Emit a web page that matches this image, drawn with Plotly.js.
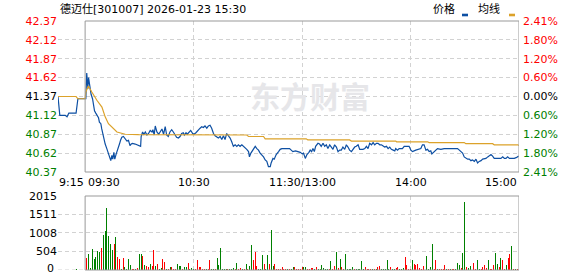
<!DOCTYPE html>
<html><head><meta charset="utf-8">
<script src="https://cdn.plot.ly/plotly-3.0.1.min.js"></script>
<style>html,body{margin:0;padding:0;background:#fff}#chart{width:578px;height:276px}</style>
</head><body><div id="chart"></div>
<script>
const titleText = '德迈仕[301007] 2026-01-23 15:30';
const legendNames = ['价格', '均线'];
const watermarkText = '东方财富';
const xTickMin = [-15, 0, 60, 120, 180, 240];
const xTickText = ['9:15', '09:30', '10:30', '11:30/13:00', '14:00', '15:00'];
const priceTicks = [42.37, 42.12, 41.87, 41.62, 41.37, 41.12, 40.87, 40.62, 40.37];
const pctText = ['2.41%', '1.80%', '1.20%', '0.60%', '0.00%', '0.60%', '1.20%', '1.80%', '2.41%'];
const preClose = 41.37;
const volTicks = [0, 504, 1008, 1511, 2015];

// minutes from 09:30 (negative = pre-market auction)
const priceMin = [
-15,-14,-13,-12,-11,-10,-9,-8,-7,-6,
-5,-4,-3,-2,-1,0,0.4,0.9,1.5,1.9,
2.4,3.0,3.3,4.1,4.6,5.2,5.9,6.7,7.4,7.9,
8.7,9.2,9.8,10.3,11.1,12.0,12.9,13.5,14.2,14.8,
15.3,15.9,16.4,17.2,17.7,18.5,19.0,19.6,20.3,21.2,
22.2,23.1,24.0,24.8,25.5,26.2,27.7,29.2,29.9,30.7,
31.0,31.8,32.5,33.3,34.2,35.1,36.0,37.0,37.5,38.2,
38.8,39.7,40.7,41.6,42.5,43.4,44.3,45.1,46.0,46.9,
47.9,48.8,49.7,50.6,51.6,52.5,53.4,54.3,54.9,55.8,
56.5,57.7,58.4,59.5,60.2,61.3,62.6,63.6,64.5,65.4,
66.3,67.3,68.2,69.1,70.0,71.0,71.9,72.8,73.7,74.7,
75.6,76.5,77.4,78.3,79.3,80.2,81.1,82.0,83.0,83.9,
84.8,85.7,86.7,87.6,88.5,89.4,90.4,90.9,91.7,92.2,
93.1,94.1,95.0,95.9,96.8,97.7,98.7,99.6,100.5,101.4,
102.4,102.9,103.9,104.6,105.7,107.0,107.9,108.8,109.8,111.2,
113.1,114.0,114.9,116.4,117.7,119.0,120.1,120.8,121.8,122.7,
123.8,124.5,125.3,126.0,126.8,127.5,128.8,129.7,130.6,131.6,
132.5,133.4,134.3,135.3,136.2,137.1,138.0,139.0,139.9,140.8,
141.7,142.6,143.6,144.5,145.4,146.3,147.3,148.2,149.1,150.0,
151.0,151.9,152.8,153.7,154.7,155.6,156.5,157.4,158.4,159.3,
160.2,161.1,162.0,163.0,163.9,164.8,165.7,166.7,167.6,168.5,
169.4,170.4,171.3,171.8,172.8,173.7,175.5,176.5,178.3,179.2,
180.2,181.1,182.9,184.8,185.7,186.6,187.5,188.5,189.4,190.3,
191.2,191.8,193.1,194.0,194.9,196.8,198.6,201.4,204.2,206.0,
207.0,207.9,208.8,209.7,210.6,211.6,212.5,213.4,214.3,215.3,
216.2,217.1,218.0,219.0,219.9,220.8,221.7,222.7,223.6,224.5,
225.4,226.3,228.2,230.0,231.0,231.9,232.8,233.7,234.7,235.6,
237.4,238.4,239.8];
const price = [
41.37,41.12,41.12,41.12,41.12,41.10,41.15,41.15,41.15,41.15,
41.15,41.34,41.34,41.34,41.34,41.34,41.34,41.68,41.47,41.62,
41.51,41.47,41.40,41.34,41.27,41.18,41.15,41.12,41.09,41.03,
41.01,40.94,40.87,40.79,40.74,40.68,40.62,40.59,40.52,40.59,
40.54,40.63,40.54,40.61,40.64,40.70,40.74,40.79,40.83,40.84,
40.81,40.78,40.79,40.72,40.74,40.75,40.74,40.73,40.72,40.71,
40.84,40.90,40.87,40.90,40.86,40.88,40.92,40.90,40.93,40.86,
40.98,40.90,40.87,40.90,40.94,40.87,40.97,40.86,40.84,40.90,
40.93,40.90,40.86,40.83,40.82,40.84,40.88,40.89,40.86,40.89,
40.87,40.90,40.92,40.88,40.87,40.89,40.93,40.95,40.97,40.96,
40.98,40.95,40.98,40.99,40.95,40.88,40.85,40.84,40.82,40.84,
40.80,40.85,40.80,40.88,40.85,40.82,40.77,40.71,40.73,40.71,
40.73,40.71,40.73,40.71,40.70,40.67,40.64,40.57,40.62,40.64,
40.67,40.71,40.68,40.66,40.62,40.60,40.57,40.53,40.51,40.44,
40.44,40.49,40.55,40.54,40.60,40.64,40.67,40.68,40.68,40.68,
40.68,40.66,40.64,40.65,40.64,40.63,40.61,40.62,40.55,40.60,
40.63,40.66,40.64,40.68,40.64,40.71,40.75,40.74,40.71,40.75,
40.71,40.73,40.68,40.73,40.70,40.67,40.73,40.70,40.64,40.66,
40.66,40.70,40.67,40.73,40.70,40.66,40.64,40.68,40.70,40.71,
40.73,40.67,40.67,40.67,40.68,40.71,40.68,40.75,40.73,40.76,
40.73,40.75,40.75,40.73,40.73,40.71,40.70,40.71,40.68,40.70,
40.67,40.66,40.65,40.68,40.66,40.68,40.68,40.71,40.71,40.71,
40.66,40.64,40.66,40.67,40.68,40.73,40.73,40.66,40.67,40.64,
40.65,40.61,40.64,40.67,40.68,40.67,40.68,40.68,40.68,40.68,
40.66,40.64,40.62,40.57,40.55,40.54,40.54,40.52,40.53,40.51,
40.54,40.49,40.51,40.52,40.54,40.54,40.55,40.57,40.58,40.60,
40.58,40.55,40.55,40.55,40.57,40.55,40.55,40.57,40.55,40.55,
40.55,40.56,40.58];

const avgMin = [-15,-5,-4,0,0.4,1.8,3.7,6.5,9.3,11.1,12.9,15.7,17.6,22.2,29.5,
89.4,90.4,98.7,99.6,122.3,123.2,146.3,147.3,171.8,172.3,189.4,190.3,209.7,210.6,225.4,226.3,239.3,240];
const avg = [41.37,41.37,41.34,41.34,41.43,41.51,41.43,41.32,41.23,41.10,41.01,40.94,40.90,40.87,40.865,
40.86,40.84,40.84,40.81,40.81,40.795,40.795,40.78,40.78,40.77,40.77,40.76,40.76,40.745,40.745,40.73,40.73,40.72];

const preVolMin = [-5];
const preVol = [27];
const preVolUp = [0];
// per-minute volume 09:31 ... 15:00
const vol = [
327,436,54,572,300,354,518,500,599,953,
1062,1689,926,708,545,708,899,354,300,27,
327,91,27,300,136,27,27,36,45,436,
436,381,127,100,82,163,109,545,109,163,
36,45,300,227,27,27,82,73,27,27,
163,109,109,27,82,73,190,27,54,27,
27,272,82,82,27,27,27,27,272,27,
36,27,327,136,599,27,27,27,27,27,
27,54,27,190,27,45,27,27,163,27,
109,681,272,490,109,27,27,409,163,27,
409,163,1090,109,163,27,27,27,73,27,
27,27,27,27,73,82,27,27,27,73,
82,73,27,27,54,54,27,82,27,27,
136,54,27,27,27,245,27,109,490,54,
300,82,27,436,27,27,27,82,27,27,
27,27,245,27,82,27,27,27,27,27,
27,82,109,27,27,27,272,27,82,27,
27,54,82,27,27,54,354,136,27,27,
272,163,136,163,54,27,109,27,381,27,
82,708,27,272,27,27,27,27,136,27,
27,27,27,27,27,190,136,54,463,1852,
82,54,109,54,190,27,272,27,27,82,
136,54,272,27,27,136,463,163,82,327,
272,27,136,327,436,654,27,27,27,409];
const volUp = [
1,0,0,0,0,0,0,0,1,0,
0,0,0,0,0,1,0,1,1,0,
1,0,0,0,0,1,1,0,1,0,
0,1,0,1,1,0,1,1,0,1,
0,0,1,1,0,1,0,1,1,1,
0,0,0,1,0,0,1,0,0,0,
1,1,1,1,1,1,0,1,1,0,
0,1,0,0,0,0,0,0,1,0,
0,0,1,0,1,1,0,1,0,1,
0,0,1,1,1,0,0,0,1,0,
0,1,0,0,1,1,1,1,1,1,
1,0,1,0,0,1,1,1,1,1,
0,0,1,1,1,1,0,1,0,0,
0,0,0,0,1,0,1,1,0,1,
0,1,1,0,0,0,0,0,1,0,
0,0,0,0,1,1,1,1,0,1,
0,1,1,0,0,0,0,0,1,0,
0,1,1,0,0,0,1,1,1,1,
0,1,1,1,1,1,1,0,0,0,
0,0,1,1,0,1,1,1,1,0,
1,0,1,1,0,0,0,1,0,0,
1,0,0,0,1,1,0,0,1,1,
1,1,0,1,1,1,0,0,1,0,
1,1,0,1,1,0,1,0,1,1];

const W = 578, H = 276;
const FONT = 'DejaVu Sans, Noto Sans CJK SC, sans-serif';
const RED = '#ff0000', GREEN = '#008000', BLACK = '#000000';
const BLUE = '#0d4fa3', ORANGE = '#dca22a';
const GRID = '#d2d2d2', FRAME = '#999999';
const px = v => v / W, py = v => 1 - v / H;

const xDom = [px(58), px(519)];
const yPriceDom = [py(172), py(21)];
const yVolDom = [py(270), py(196)];

const colOf = v => v > preClose + 1e-9 ? RED : (v < preClose - 1e-9 ? GREEN : BLACK);
const span = (c, t) => `<span style="color:${c}">${t}</span>`;

const volMin = vol.map((_, i) => i + 1);

const traces = [
  {x: priceMin, y: price, type: 'scatter', mode: 'lines', line: {color: BLUE, width: 1.2}, xaxis: 'x', yaxis: 'y', hoverinfo: 'skip'},
  {x: avgMin, y: avg, type: 'scatter', mode: 'lines', line: {color: ORANGE, width: 1.2}, xaxis: 'x', yaxis: 'y', hoverinfo: 'skip'},
  {x: priceMin, y: price, type: 'scatter', mode: 'lines', line: {color: 'rgba(0,0,0,0)', width: 0}, xaxis: 'x', yaxis: 'y2', hoverinfo: 'skip'},
  {x: volMin, y: vol, type: 'bar', width: 0.55, marker: {color: volUp.map(u => u ? RED : GREEN), line: {width: 0}}, xaxis: 'x2', yaxis: 'y3', hoverinfo: 'skip'},
  {x: preVolMin, y: preVol, type: 'bar', width: 0.55, marker: {color: preVolUp.map(u => u ? RED : GREEN), line: {width: 0}}, xaxis: 'x2', yaxis: 'y3', hoverinfo: 'skip'}
];

const gridX = {
  range: [-15, 240], domain: xDom, showticklabels: false, ticks: '',
  tickvals: [-15, 60, 120, 180], showgrid: true, gridcolor: GRID, griddash: '4px,3px', gridwidth: 1,
  zeroline: false, showline: false, fixedrange: true
};

const annotations = [
  {text: titleText, x: px(58), y: py(9), xref: 'paper', yref: 'paper', xanchor: 'left', yanchor: 'middle', showarrow: false, font: {family: FONT, size: 11, color: BLACK}},
  {text: legendNames[0], x: px(431), y: py(9), xref: 'paper', yref: 'paper', xanchor: 'left', yanchor: 'middle', showarrow: false, font: {family: FONT, size: 11, color: BLACK}},
  {text: legendNames[1], x: px(476), y: py(9), xref: 'paper', yref: 'paper', xanchor: 'left', yanchor: 'middle', showarrow: false, font: {family: FONT, size: 11, color: BLACK}},
  {text: '<b>' + watermarkText + '</b>', x: px(310), y: py(97), xref: 'paper', yref: 'paper', xanchor: 'center', yanchor: 'middle', showarrow: false, font: {family: FONT, size: 30, color: '#e6e6e9'}},
  {text: String(volTicks[0]), x: px(56), y: volTicks[0], xref: 'paper', yref: 'y3', xanchor: 'right', yanchor: 'middle', yshift: 2, showarrow: false, font: {family: FONT, size: 11, color: BLACK}}
];
xTickMin.forEach((m, i) => {
  const anchor = i <= 1 ? 'left' : (i === xTickMin.length - 1 ? 'right' : 'center');
  annotations.push({text: xTickText[i], x: m, xref: 'x', y: py(182), yref: 'paper', xanchor: anchor, yanchor: 'middle', showarrow: false, xshift: i === 1 ? 1 : (i === 0 ? -1 : 0), font: {family: FONT, size: 11, color: BLACK}});
});

const shapes = [
  {type: 'line', xref: 'x2', yref: 'y3', x0: -15, x1: 0, y0: 0, y1: 0, line: {color: GRID, width: 1, dash: '4px,3px'}},
  {type: 'rect', xref: 'x', yref: 'paper', x0: 0, x1: 240, y0: yPriceDom[0], y1: yPriceDom[1], line: {color: FRAME, width: 1}},
  {type: 'rect', xref: 'x2', yref: 'paper', x0: 0, x1: 240, y0: yVolDom[0], y1: yVolDom[1], line: {color: FRAME, width: 1}},
  {type: 'rect', xref: 'paper', yref: 'paper', x0: px(462), x1: px(468), y0: py(16.3), y1: py(13.7), fillcolor: BLUE, line: {width: 0}},
  {type: 'rect', xref: 'paper', yref: 'paper', x0: px(509), x1: px(515), y0: py(16.3), y1: py(13.7), fillcolor: ORANGE, line: {width: 0}}
];

const layout = {
  width: W, height: H, margin: {l: 0, r: 0, t: 0, b: 0},
  paper_bgcolor: '#fff', plot_bgcolor: 'rgba(0,0,0,0)', showlegend: false, bargap: 0,
  font: {family: FONT, size: 11, color: BLACK},
  xaxis: Object.assign({anchor: 'y'}, gridX),
  xaxis2: Object.assign({anchor: 'y3'}, gridX),
  yaxis: {
    domain: yPriceDom, range: [40.37, 42.37], tickvals: priceTicks,
    ticktext: priceTicks.map(v => span(colOf(v), v.toFixed(2))),
    showgrid: true, gridcolor: GRID, griddash: '4px,3px', zeroline: false, showline: false, ticks: '',
    ticklabeloverflow: 'allow', tickfont: {family: FONT, size: 11}, fixedrange: true
  },
  yaxis2: {
    overlaying: 'y', side: 'right', anchor: 'x', range: [40.37, 42.37], tickvals: priceTicks,
    ticktext: priceTicks.map((v, i) => span(colOf(v), pctText[i])),
    showgrid: false, zeroline: false, showline: false, ticks: '', ticklabelstandoff: 3,
    ticklabeloverflow: 'allow', tickfont: {family: FONT, size: 11}, fixedrange: true
  },
  yaxis3: {
    domain: yVolDom, anchor: 'x2', range: [0, 2015], tickvals: volTicks.slice(1), ticktext: volTicks.slice(1).map(String),
    showgrid: true, gridcolor: GRID, griddash: '4px,3px', zeroline: false, showline: false, ticks: '',
    ticklabeloverflow: 'allow', tickfont: {family: FONT, size: 11, color: BLACK}, fixedrange: true
  },
  shapes: shapes, annotations: annotations
};

Plotly.newPlot('chart', traces, layout, {staticPlot: true, displayModeBar: false});
</script>
</body></html>
